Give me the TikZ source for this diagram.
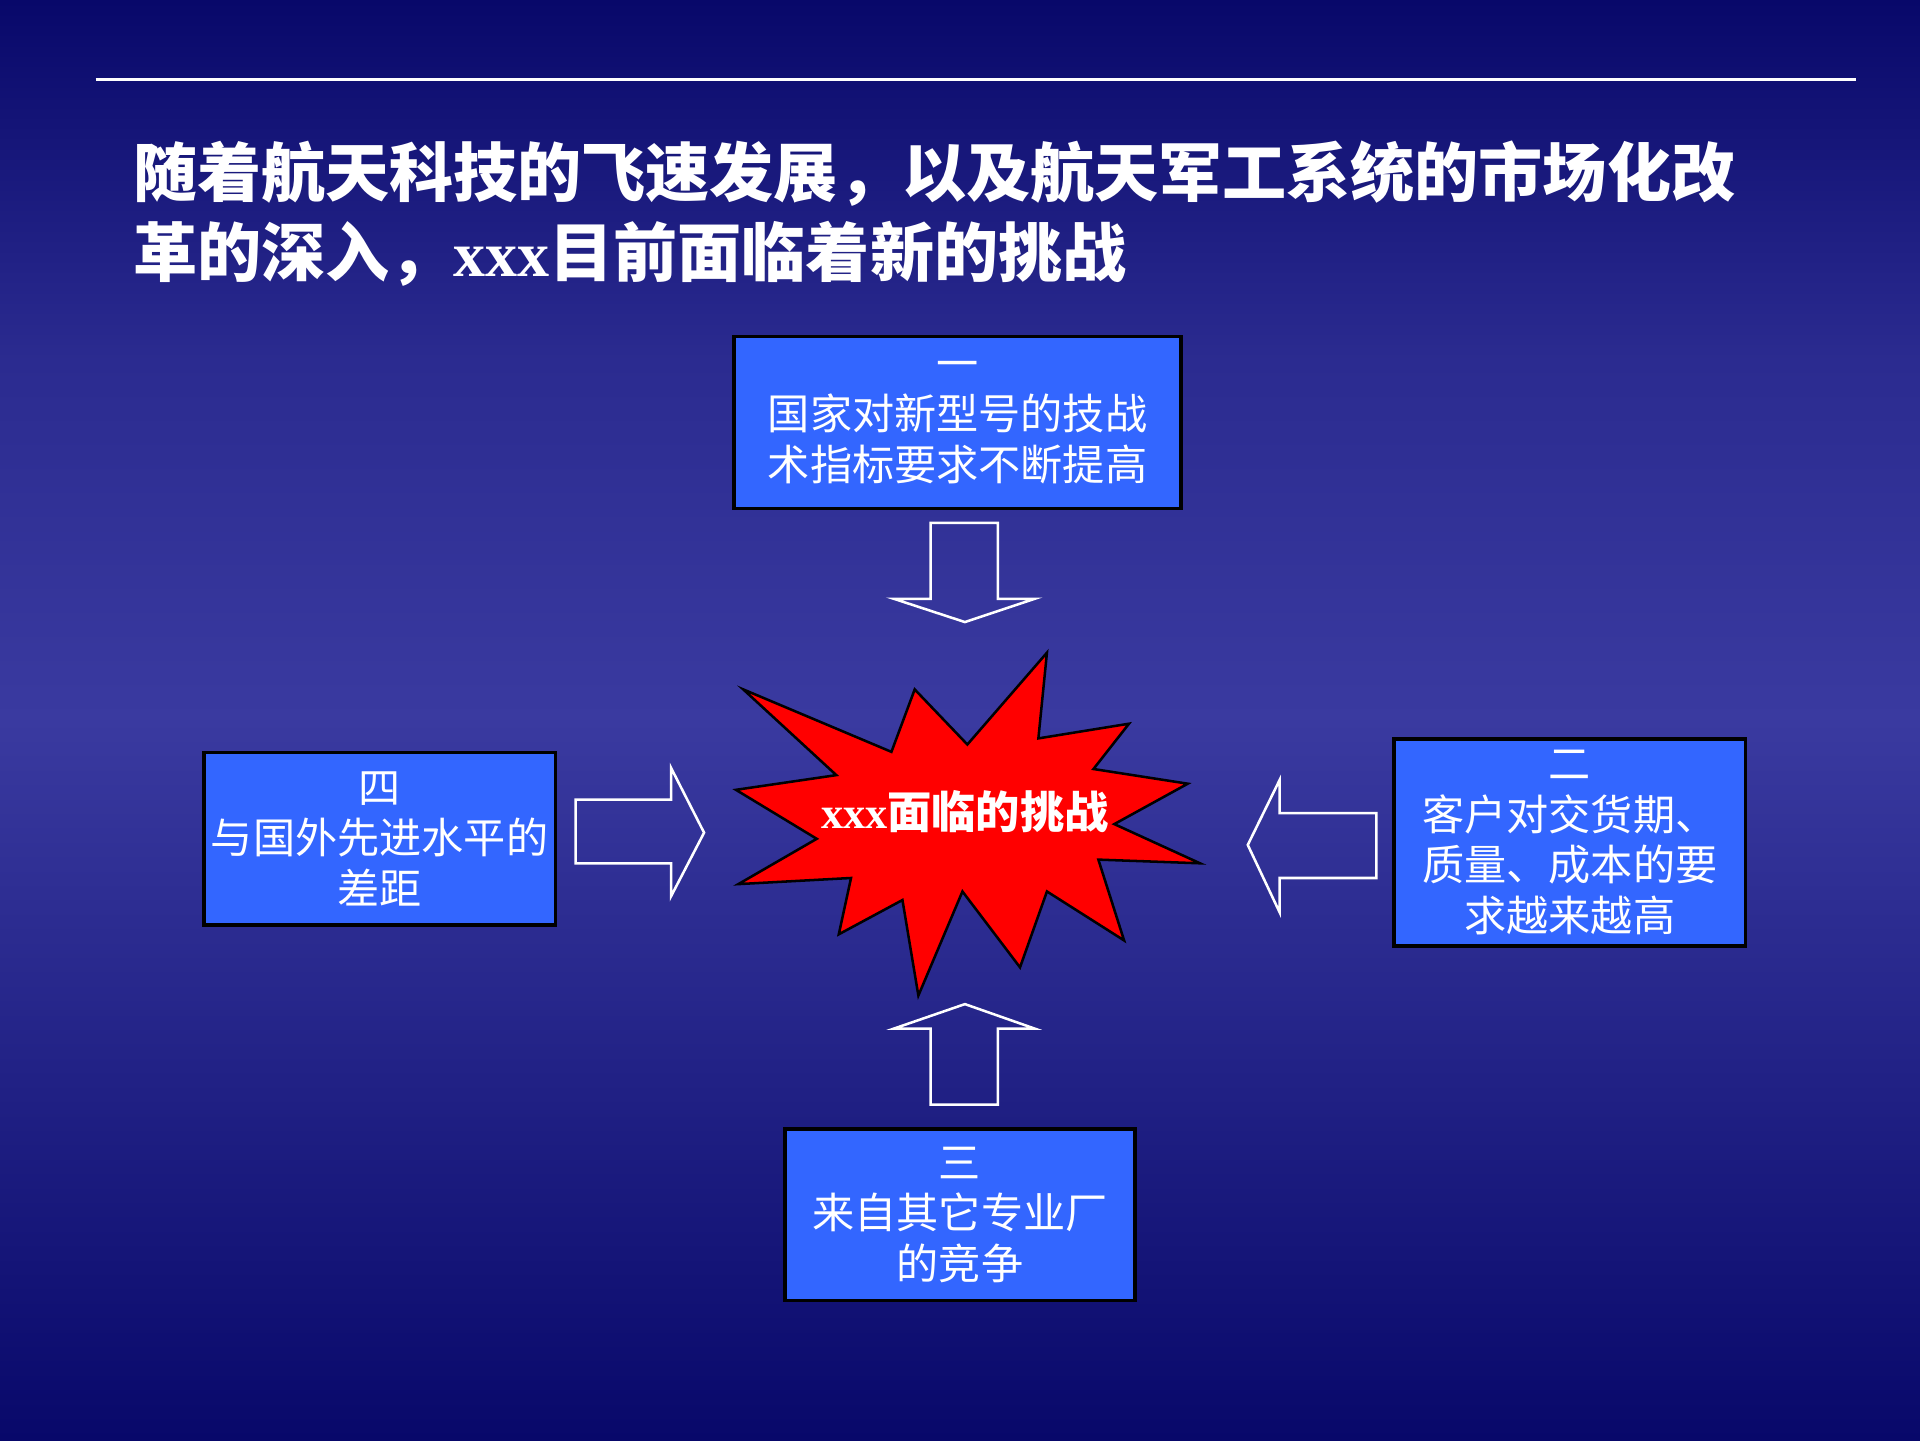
\documentclass[tikz,border=0pt]{standalone}
\usepackage{fontspec}
\setmainfont{Liberation Serif}
\newfontfamily\cjk{Noto Sans CJK SC}
\begin{document}
\begin{tikzpicture}[x=0.010204cm,y=-0.010204cm,
  box/.style={draw=black,line width=0.8pt,fill=boxblue,text=white,align=center,inner sep=0pt,font=\cjk\fontsize{10}{12}\selectfont},
  barrow/.style={draw=white,line width=0.6pt}]
\definecolor{boxblue}{HTML}{3366FF}
\definecolor{bgtop}{HTML}{08086A}
\definecolor{bgmid}{HTML}{3A3AA0}
\definecolor{bgbot}{HTML}{08086A}
\useasboundingbox (0,0) rectangle (1568,1176);
\shade[top color=bgtop,bottom color=bgmid,middle color=bgmid!70!bgtop] (0,0) rectangle (1568,588);
\shade[top color=bgmid,bottom color=bgbot] (0,588) rectangle (1568,1176);
\draw[white,line width=0.6pt] (78,65) -- (1516,65);
\node[anchor=north west,text=white,align=left,inner sep=0pt,font=\cjk\bfseries\fontsize{15.2}{19}\selectfont] (title) at (108,114)
 {随着航天科技的飞速发展，以及航天军工系统的市场化改\\革的深入，{\rmfamily\bfseries xxx}目前面临着新的挑战};
\node[box,minimum width=365*0.010204cm,minimum height=140*0.010204cm] (b1) at (782,345) {一\\国家对新型号的技战\\术指标要求不断提高};
\node[box,minimum width=287*0.010204cm,minimum height=141*0.010204cm] (b4) at (310,685) {四\\与国外先进水平的\\差距};
\node[box,minimum width=287*0.010204cm,minimum height=169*0.010204cm] (b2) at (1282,688) {二\\客户对交货期、\\质量、成本的要\\求越来越高};
\node[box,minimum width=286*0.010204cm,minimum height=140*0.010204cm] (b3) at (784,992) {三\\来自其它专业厂\\的竞争};
\draw[draw=black,line width=0.6pt,fill=red] (855,533)--(848,603)--(922,591)--(893,628)--(970,640)--(910,673)--(980,705)--(897,702)--(918,768)--(855,728)--(833,790)--(786,728)--(750,813)--(737,735)--(685,763)--(695,717)--(603,722)--(667,685)--(601,645)--(683,633)--(607,563)--(728,614)--(747,563)--(790,608)--cycle;
\node[text=white,font=\cjk\bfseries\fontsize{10.5}{13}\selectfont] (star) at (788,663) {{\rmfamily\bfseries xxx}面临的挑战};
\draw[barrow] (760,427)--(815,427)--(815,489)--(845,489)--(788,508)--(730,489)--(760,489)--cycle;
\draw[barrow] (760,902)--(815,902)--(815,840)--(845,840)--(788,820)--(730,840)--(760,840)--cycle;
\draw[barrow] (470,653)--(548,653)--(548,627)--(575,680)--(548,732)--(548,705)--(470,705)--cycle;
\draw[barrow] (1124,664)--(1045,664)--(1045,637)--(1019,690)--(1045,745)--(1045,717)--(1124,717)--cycle;
\end{tikzpicture}
\end{document}
